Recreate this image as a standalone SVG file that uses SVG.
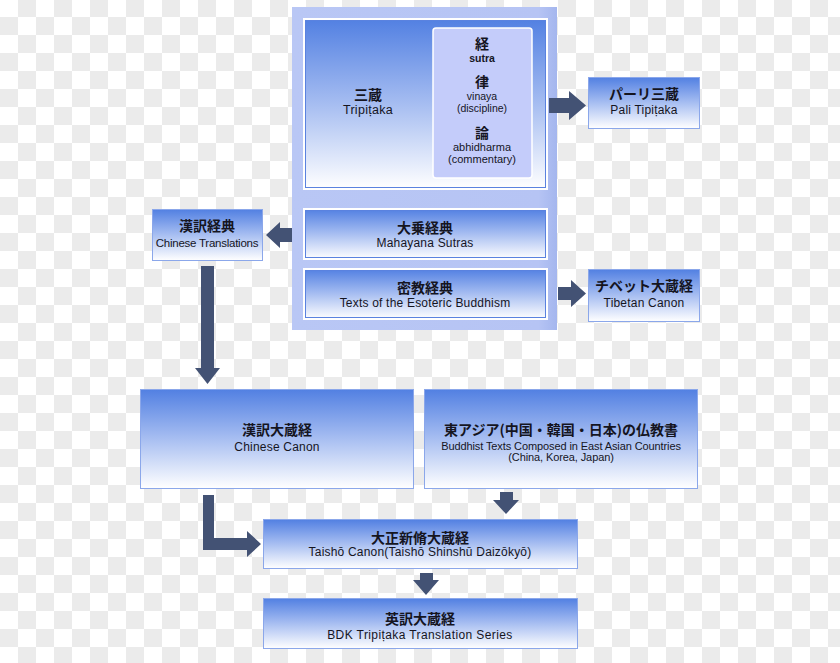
<svg xmlns="http://www.w3.org/2000/svg" width="840" height="663" viewBox="0 0 840 663">
<defs>
<pattern id="checker" x="0" y="-1" width="36" height="36" patternUnits="userSpaceOnUse">
<rect width="36" height="36" fill="#ffffff"/>
<rect x="18" y="0" width="18" height="18" fill="#ebebeb"/>
<rect x="0" y="18" width="18" height="18" fill="#ebebeb"/>
</pattern>
<linearGradient id="grad" x1="0" y1="0" x2="0" y2="1">
<stop offset="0" stop-color="#5280e2"/>
<stop offset="0.45" stop-color="#9fb8f0"/>
<stop offset="1" stop-color="#ffffff"/>
</linearGradient>
<linearGradient id="gradBig" x1="0" y1="0" x2="0" y2="1">
<stop offset="0" stop-color="#5280e2"/>
<stop offset="0.5" stop-color="#a6bdf1"/>
<stop offset="1" stop-color="#ffffff"/>
</linearGradient>
<linearGradient id="contGrad" x1="0" y1="0" x2="1" y2="0">
<stop offset="0" stop-color="#b9c7f5"/>
<stop offset="0.93" stop-color="#b6c4f4"/>
<stop offset="1" stop-color="#a4b6ee"/>
</linearGradient>
</defs>
<style>
.box{fill:url(#grad);stroke:#8ba7ea;stroke-width:1}
.inbox{fill:url(#grad);stroke:#ffffff;stroke-width:2}
.big{fill:url(#gradBig)}
.inline{fill:none;stroke:#5a82df;stroke-width:1}
.arrow{fill:#435274}
.jp{font-family:"Noto Sans CJK JP","Liberation Sans",sans-serif;font-size:14px;font-weight:bold;fill:#15151f;text-anchor:middle}
.en{font-family:"Liberation Sans",Arial,sans-serif;font-size:12px;letter-spacing:0.2px;fill:#15151f;text-anchor:middle}
.sm{font-family:"Liberation Sans",Arial,sans-serif;font-size:10.5px;fill:#15151f;text-anchor:middle}
.tight{font-size:11px;letter-spacing:-0.1px}
.narrow{font-size:11.5px;letter-spacing:-0.25px}
.wide{letter-spacing:0.4px}
.tri{font-size:12.5px;letter-spacing:0.3px}
.med{font-size:11px}
.b{font-weight:bold}
</style>
<rect width="840" height="663" fill="url(#checker)"/>

<g id="container">
<rect x="292" y="7" width="265" height="323" fill="url(#contGrad)"/>
</g>

<g id="tripitaka">
<rect x="304" y="19" width="243" height="170" class="inbox big"/>
<rect x="305.5" y="20.5" width="240" height="167" class="inline"/>
<text x="368" y="100" class="jp">三蔵</text>
<text x="368" y="114" class="en tri">Tripiṭaka</text>
</g>

<g id="sutra-box">
<rect x="433" y="28" width="99" height="150" rx="3" fill="#c4ccfa" stroke="#ffffff" stroke-width="1.5"/>
<text x="482" y="49" class="jp">経</text>
<text x="482" y="62" class="sm b">sutra</text>
<text x="482" y="87" class="jp">律</text>
<text x="482" y="100" class="sm">vinaya</text>
<text x="482" y="112" class="sm">(discipline)</text>
<text x="482" y="138" class="jp">論</text>
<text x="482" y="151" class="sm med">abhidharma</text>
<text x="482" y="163" class="sm med">(commentary)</text>
</g>

<g id="mahayana">
<rect x="304" y="209" width="243" height="50" class="inbox"/>
<rect x="305.5" y="210.5" width="240" height="47" class="inline"/>
<text x="425" y="233" class="jp">大乗経典</text>
<text x="425" y="247" class="en">Mahayana Sutras</text>
</g>

<g id="esoteric">
<rect x="304" y="269" width="243" height="50" class="inbox"/>
<rect x="305.5" y="270.5" width="240" height="47" class="inline"/>
<text x="425" y="293" class="jp">密教経典</text>
<text x="425" y="306.5" class="en">Texts of the Esoteric Buddhism</text>
</g>

<g id="pali">
<rect x="588.5" y="77.5" width="111" height="51" class="box"/>
<text x="644" y="99" class="jp">パーリ三蔵</text>
<text x="644" y="114" class="en">Pali Tipiṭaka</text>
</g>

<g id="tibetan">
<rect x="588.5" y="269.5" width="111" height="52" class="box"/>
<text x="644" y="291" class="jp">チベット大蔵経</text>
<text x="644" y="307" class="en">Tibetan Canon</text>
</g>

<g id="chinese-translations">
<rect x="152.5" y="209.5" width="110" height="51" class="box"/>
<text x="207" y="231" class="jp">漢訳経典</text>
<text x="207" y="246.5" class="en narrow">Chinese Translations</text>
</g>

<g id="chinese-canon">
<rect x="140.5" y="389.5" width="273" height="99" class="box"/>
<text x="277" y="435" class="jp">漢訳大蔵経</text>
<text x="277" y="451" class="en">Chinese Canon</text>
</g>

<g id="east-asian">
<rect x="424.5" y="389.5" width="273" height="99" class="box"/>
<text x="561" y="435" class="jp">東アジア(中国・韓国・日本)の仏教書</text>
<text x="561" y="449.5" class="en tight">Buddhist Texts Composed in East Asian Countries</text>
<text x="561" y="460.5" class="en tight">(China, Korea, Japan)</text>
</g>

<g id="taisho">
<rect x="263.5" y="519.5" width="314" height="49" class="box"/>
<text x="420" y="542.5" class="jp">大正新脩大蔵経</text>
<text x="420" y="556" class="en">Taishō Canon(Taishō Shinshū Daizōkyō)</text>
</g>

<g id="bdk">
<rect x="263.5" y="598.5" width="314" height="50" class="box"/>
<text x="420" y="623.5" class="jp">英訳大蔵経</text>
<text x="420" y="638.5" class="en wide">BDK Tripiṭaka Translation Series</text>
</g>

<g id="connectors">
<polygon class="arrow" points="549,98 569,98 569,91 586,105.5 569,120 569,113 549,113"/>
<polygon class="arrow" points="292,228 280,228 280,222 266,235 280,248 280,242 292,242"/>
<polygon class="arrow" points="558,287 571,287 571,280 586,293.5 571,307 571,300 558,300"/>
<polygon class="arrow" points="201,266 214,266 214,368 220,368 207.5,384 195,368 201,368"/>
<polygon class="arrow" points="203,495 214,495 214,538 247,538 247,531 261,544 247,557 247,550 203,550"/>
<polygon class="arrow" points="500,492 513,492 513,500 519,500 506,514 493,500 500,500"/>
<polygon class="arrow" points="420,573 433,573 433,580 439,580 426,595 413,580 420,580"/>
</g>
</svg>
